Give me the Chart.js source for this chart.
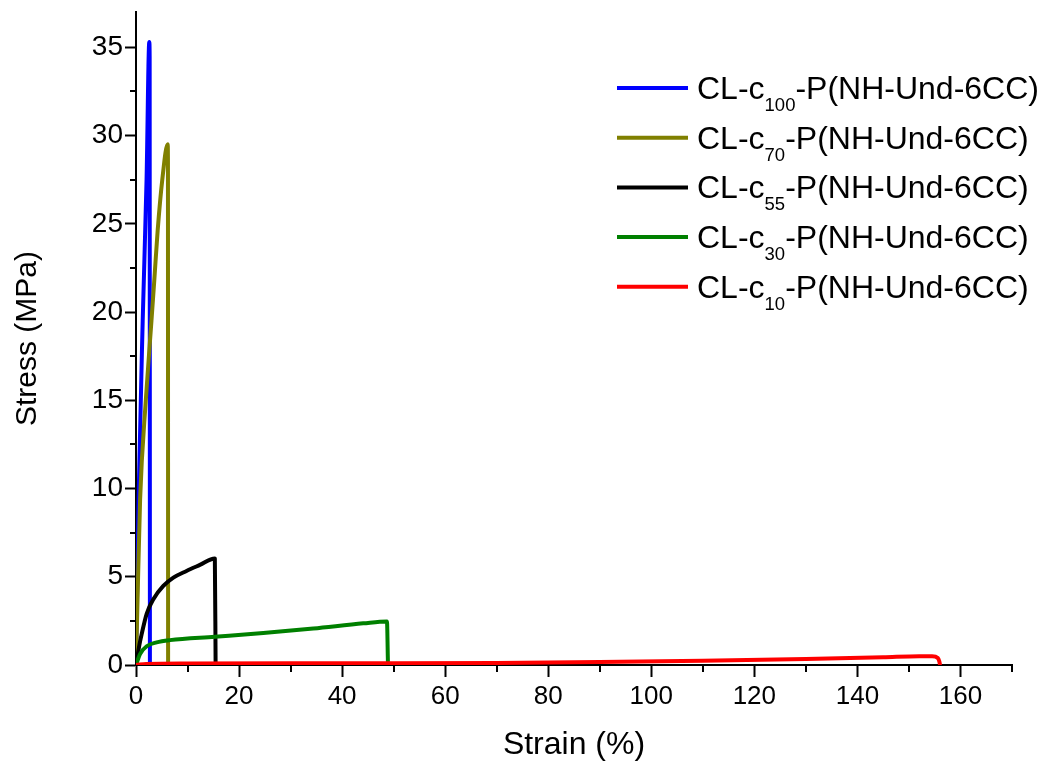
<!DOCTYPE html>
<html>
<head>
<meta charset="utf-8">
<script src="https://cdn.jsdelivr.net/npm/chart.js@4/dist/chart.umd.min.js"></script>
<style>
  html, body { margin: 0; padding: 0; background: #fff; }
  #wrap { width: 1042px; height: 767px; position: relative; }
</style>
</head>
<body>
<div id="wrap"><canvas id="tensile"></canvas></div>
<script>
// strain (%) / stress (MPa)
const strain100 = [0, 0.5, 1.3, 2.05, 2.58, 2.65, 2.7];
const stress100 = [0, 9.4, 19.5, 27.5, 35.3, 34.5, 0];

const strain70 = [0, 0.3, 0.8, 1.9, 3.0, 3.55, 4.2, 5.1, 6.15, 6.2, 6.23];
const stress70 = [0, 3.7, 9.4, 15, 19.5, 21.8, 24.6, 27.5, 29.5, 28.5, 0];

const strain55 = [0, 0.65, 1.1, 2.07, 3.37, 5.3, 7.25, 9.8, 12.4, 15.3, 15.45];
const stress55 = [0, 1.13, 1.75, 2.9, 3.73, 4.48, 4.95, 5.33, 5.67, 6.04, 0];

const strain30 = [0, 0.78, 2.07, 4, 6.6, 15.3, 24.7, 34.4, 44.1, 48.7, 48.9];
const stress30 = [0, 0.62, 1.06, 1.28, 1.41, 1.6, 1.81, 2.07, 2.36, 2.47, 0];

const strain10 = [0, 2, 10, 30, 50, 70, 90, 110, 130, 145, 152, 154.5, 155.6, 155.9, 156];
const stress10 = [0, 0.06, 0.09, 0.1, 0.1, 0.12, 0.17, 0.24, 0.34, 0.44, 0.5, 0.5, 0.4, 0.2, 0.05];

const subscripts = ['100', '70', '55', '30', '10'];
const seriesColors = ['#0000ff', '#808000', '#000000', '#008000', '#ff0000'];
const xTicks = [0, 20, 40, 60, 80, 100, 120, 140, 160];
const yTicks = [0, 5, 10, 15, 20, 25, 30, 35];

const FONT = "'Liberation Sans', Arial, sans-serif";

function pairs(xs, ys) {
    return xs.map(function(x, i) { return { x: x, y: ys[i] }; });
}

const seriesData = [
    pairs(strain100, stress100),
    pairs(strain70, stress70),
    pairs(strain55, stress55),
    pairs(strain30, stress30),
    pairs(strain10, stress10)
];

/* minor ticks halfway between the labelled ones */
const minorTicks = {
    id: 'minorTicks',
    afterDraw: function(chart) {
        const ctx = chart.ctx;
        const xs = chart.scales.x, ys = chart.scales.y;
        ctx.save();
        ctx.strokeStyle = '#000';
        ctx.lineWidth = 2;
        ctx.beginPath();
        xTicks.forEach(function(v) {
            const m = v + 10;
            if (m > xs.max) return;
            const px = Math.round(xs.getPixelForValue(m));
            ctx.moveTo(px, ys.bottom);
            ctx.lineTo(px, ys.bottom + 7);
        });
        yTicks.forEach(function(v) {
            const m = v + 2.5;
            if (m > ys.max) return;
            const py = Math.round(ys.getPixelForValue(m));
            ctx.moveTo(xs.left, py);
            ctx.lineTo(xs.left - 6, py);
        });
        ctx.stroke();
        ctx.restore();
    }
};

/* legend with subscripts, drawn on the canvas */
const subLegend = {
    id: 'subLegend',
    afterDraw: function(chart) {
        const ctx = chart.ctx;
        ctx.save();
        chart.data.datasets.forEach(function(ds, i) {
            const cy = 88 + i * 49.7;
            ctx.strokeStyle = ds.borderColor;
            ctx.lineWidth = 4;
            ctx.beginPath();
            ctx.moveTo(617, cy);
            ctx.lineTo(688, cy);
            ctx.stroke();

            ctx.fillStyle = '#000';
            ctx.textBaseline = 'alphabetic';
            let x = 697;
            ctx.font = '32px ' + FONT;
            ctx.fillText('CL-c', x, cy + 11);
            x += ctx.measureText('CL-c').width;
            ctx.font = '18.5px ' + FONT;
            ctx.fillText(subscripts[i], x, cy + 23);
            x += ctx.measureText(subscripts[i]).width;
            ctx.font = '32px ' + FONT;
            ctx.fillText('-P(NH-Und-6CC)', x, cy + 11);
        });
        ctx.restore();
    }
};

new Chart(document.getElementById('tensile'), {
    type: 'line',
    data: {
        datasets: seriesData.map(function(d, i) {
            return {
                label: 'CL-c' + subscripts[i] + '-P(NH-Und-6CC)',
                data: d,
                borderColor: seriesColors[i],
                backgroundColor: seriesColors[i],
                borderWidth: 4,
                pointRadius: 0,
                fill: false,
                cubicInterpolationMode: 'monotone',
                borderCapStyle: 'round',
                borderJoinStyle: 'round',
                order: 4 - i
            };
        })
    },
    options: {
        responsive: true,
        maintainAspectRatio: false,
        animation: false,
        layout: { padding: { top: 12, right: 30, left: 0, bottom: 0 } },
        plugins: { legend: { display: false }, tooltip: { enabled: false } },
        scales: {
            x: {
                type: 'linear',
                min: 0,
                max: 170,
                afterFit: function(s) { s.height = 102; s.paddingLeft = 0; s.paddingRight = 0; },
                afterBuildTicks: function(s) { s.ticks = xTicks.map(function(v) { return { value: v }; }); },
                ticks: { font: { family: FONT, size: 26 }, color: '#000', padding: 4, maxRotation: 0 },
                grid: { drawOnChartArea: false, drawTicks: true, tickLength: 12, tickColor: '#000', tickWidth: 2 },
                border: { display: true, color: '#000', width: 2 },
                title: { display: true, text: 'Strain (%)', color: '#000', font: { family: FONT, size: 32 }, padding: { top: 0, bottom: 3 } }
            },
            y: {
                type: 'linear',
                min: 0,
                max: 37,
                afterFit: function(s) { s.width = 136; s.paddingTop = 0; s.paddingBottom = 0; },
                afterBuildTicks: function(s) { s.ticks = yTicks.map(function(v) { return { value: v }; }); },
                ticks: { font: { family: FONT, size: 28 }, color: '#000', padding: 2 },
                grid: { drawOnChartArea: false, drawTicks: true, tickLength: 11, tickColor: '#000', tickWidth: 2 },
                border: { display: true, color: '#000', width: 2 },
                title: { display: true, text: 'Stress (MPa)', color: '#000', font: { family: FONT, size: 30 }, padding: { top: 10, bottom: 0 } }
            }
        }
    },
    plugins: [minorTicks, subLegend]
});
</script>
</body>
</html>
